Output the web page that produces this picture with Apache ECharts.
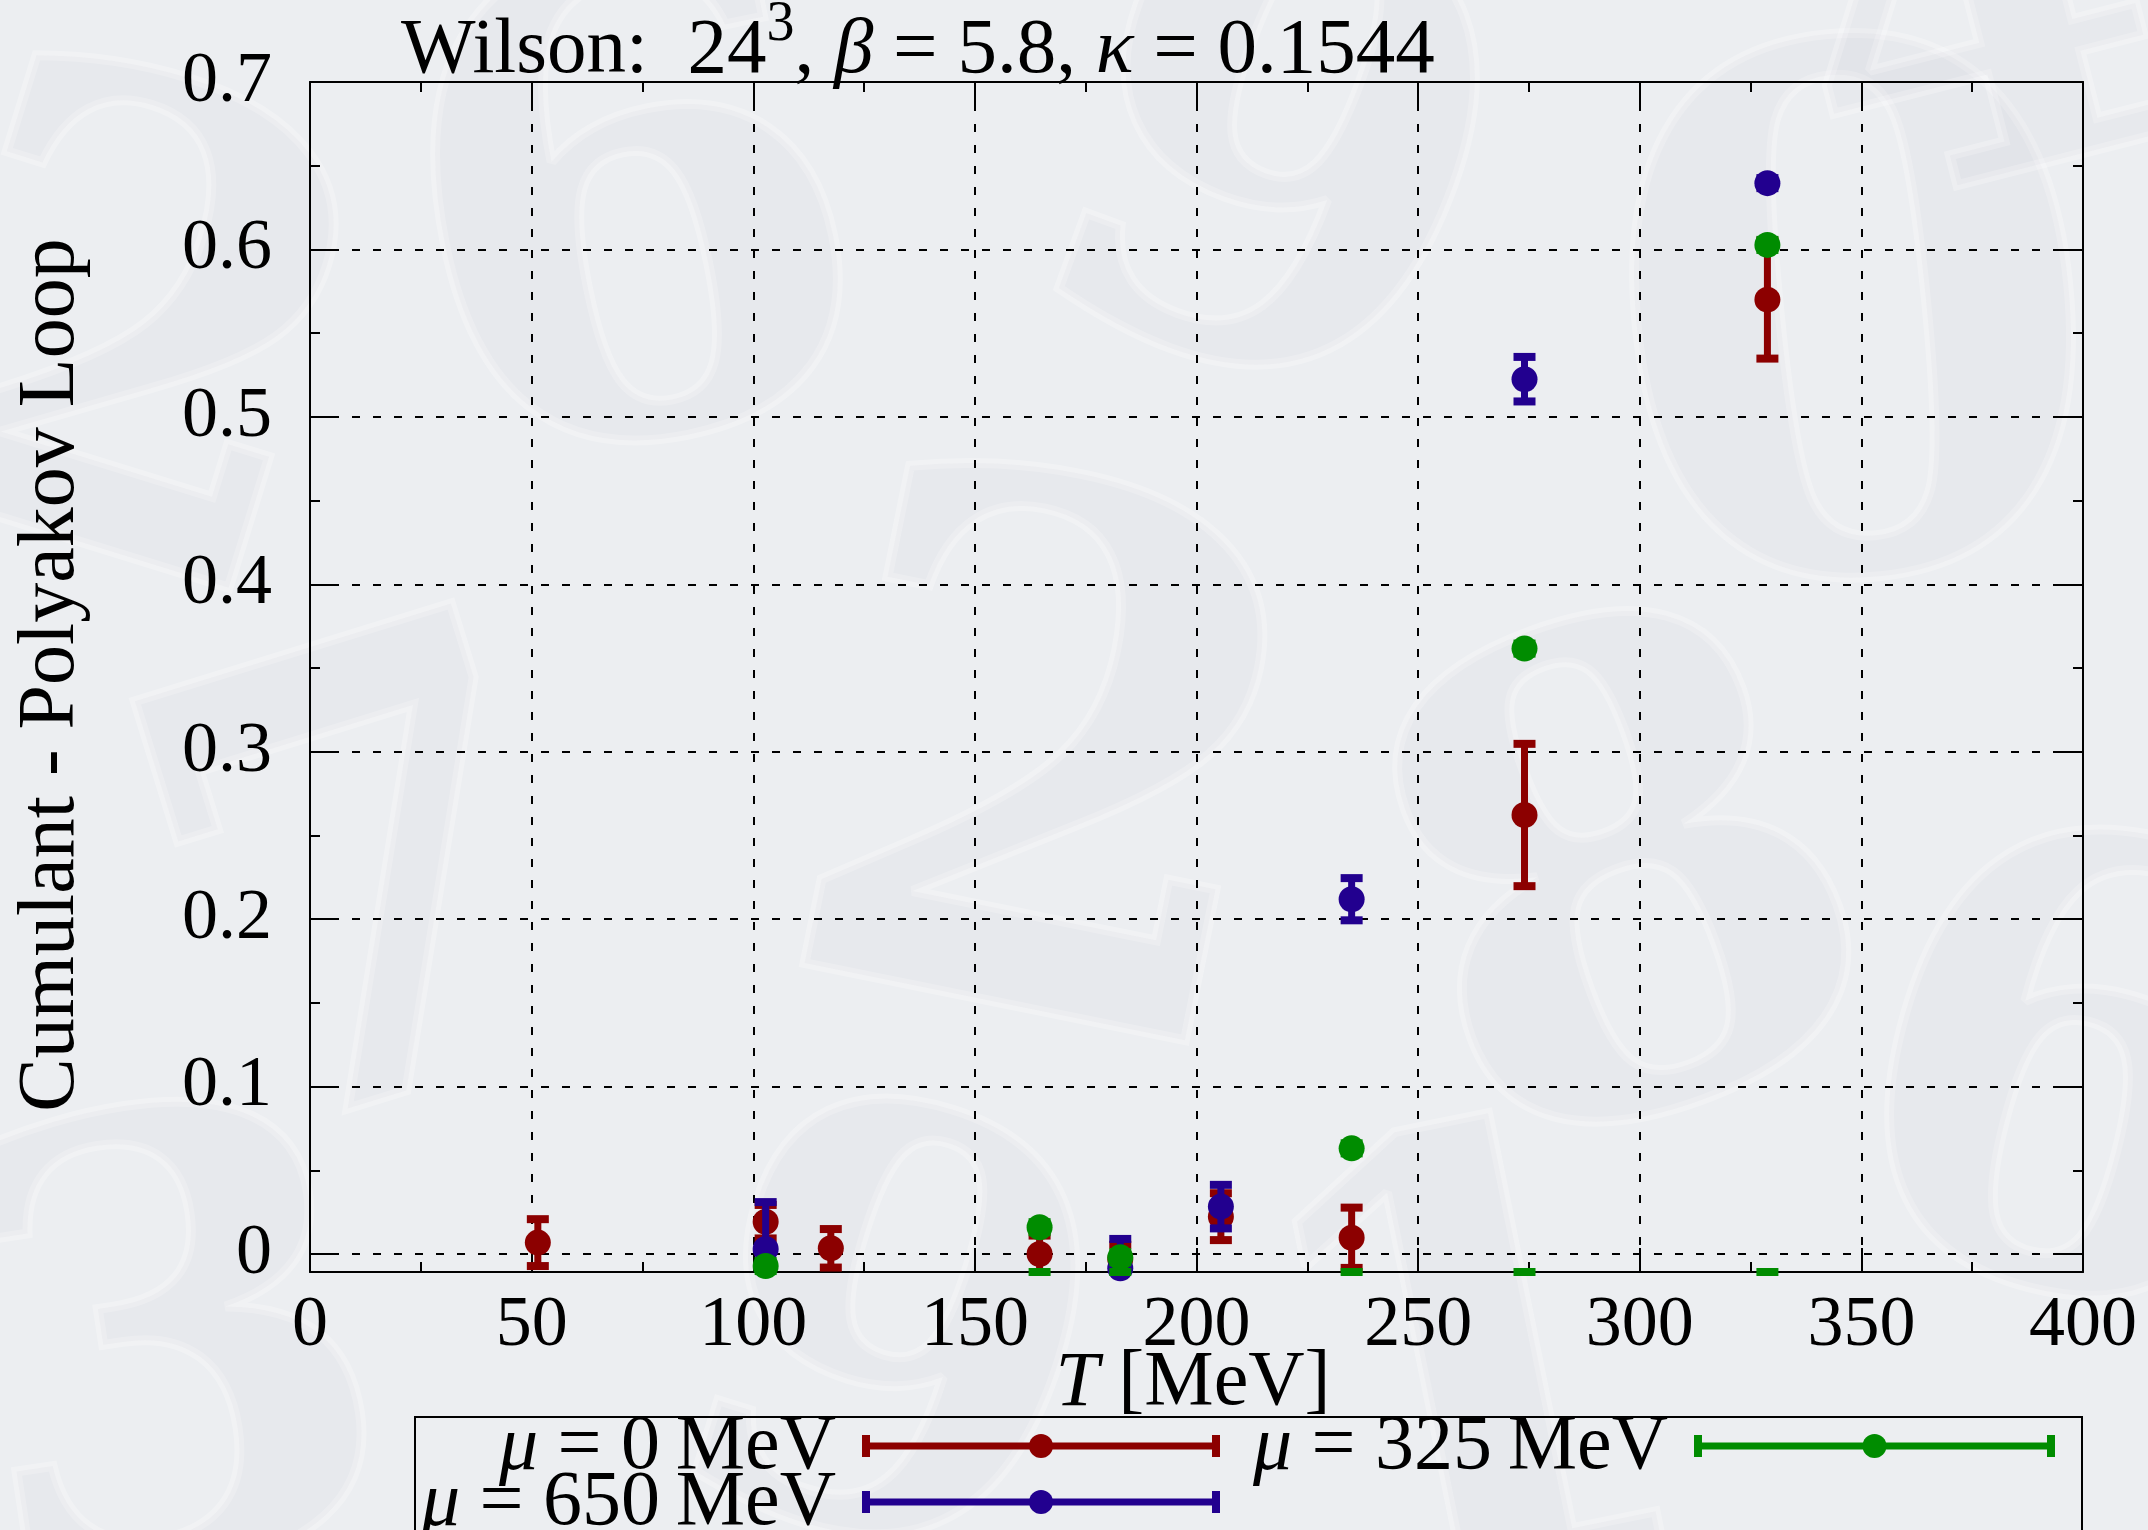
<!DOCTYPE html>
<html>
<head>
<meta charset="utf-8">
<title>Cumulant - Polyakov Loop</title>
<script src="https://cdn.jsdelivr.net/npm/echarts@6/dist/echarts.min.js"></script>
<style>
  html, body { margin: 0; padding: 0; background: #eceef1; }
  #chart { width: 2148px; height: 1530px; }
</style>
</head>
<body>
<div id="chart"></div>
<script>
// ---- data: T [MeV], cumulant value, symmetric error ----
const T_MU0   = [51.4, 102.8, 117.5, 164.6, 182.8, 205.5, 235.0, 274.0, 328.8];
const P_MU0   = [0.0068, 0.0193, 0.0034, 0.0000, -0.0030, 0.0223, 0.0097, 0.2622, 0.5700];
const E_MU0   = [0.0140, 0.0100, 0.0115, 0.0110, 0.0085, 0.0140, 0.0180, 0.0425, 0.0352];

const T_MU325 = [102.8, 164.6, 182.8, 235.0, 274.0, 328.8];
const P_MU325 = [-0.0072, 0.0160, -0.0020, 0.0631, 0.3616, 0.6027];
const E_MU325 = [0.0030, 0.0030, 0.0030, 0.0030, 0.0030, 0.0030];
// lower error caps of the mu = 325 MeV set that sit on the bottom border
const T_MU325_FLOOR = [164.6, 182.8, 235.0, 274.0, 328.8];

const T_MU650 = [102.8, 182.8, 205.5, 235.0, 274.0, 328.8];
const P_MU650 = [0.0030, -0.0085, 0.0283, 0.2119, 0.5225, 0.6396];
const E_MU650 = [0.0280, 0.0175, 0.0130, 0.0126, 0.0133, 0.0030];

const MU_VALUES   = ['0', '325', '650'];
const X_TICKS_MIN = 0, X_TICKS_MAX = 400, X_TICK_STEP = 50;
const Y_TICK_LABELS = ['0', '0.1', '0.2', '0.3', '0.4', '0.5', '0.6', '0.7'];

// ---- styling ----
const FONT = '"Liberation Serif", "Times New Roman", serif';
const COL_MU0 = '#8c0000', COL_MU325 = '#008c00', COL_MU650 = '#22008f';
const Y_MIN = -0.01075, Y_MAX = 0.7;
const DOT_R = 13, BAR_W = 7, CAP_W = 22, CAP_H = 8;

const zip = (t, p, e) => t.map((v, i) => [v, p[i], e[i]]);

function errorBarItem(color) {
  return function (params, api) {
    const x = api.value(0), y = api.value(1), e = api.value(2);
    const lo = Math.max(y - e, Y_MIN), hi = Math.min(y + e, Y_MAX);
    const c = api.coord([x, y]);
    const pLo = api.coord([x, lo]);
    const pHi = api.coord([x, hi]);
    const kids = [];
    if (hi > lo) {
      kids.push({ type: 'line', shape: { x1: c[0], y1: pLo[1], x2: c[0], y2: pHi[1] },
                  style: { stroke: color, lineWidth: BAR_W } });
    }
    if (y - e >= Y_MIN) kids.push({ type: 'rect', shape: { x: c[0] - CAP_W / 2, y: pLo[1] - CAP_H / 2, width: CAP_W, height: CAP_H }, style: { fill: color } });
    if (y + e <= Y_MAX) kids.push({ type: 'rect', shape: { x: c[0] - CAP_W / 2, y: pHi[1] - CAP_H / 2, width: CAP_W, height: CAP_H }, style: { fill: color } });
    kids.push({ type: 'circle', shape: { cx: c[0], cy: c[1], r: DOT_R }, style: { fill: color } });
    return { type: 'group', children: kids };
  };
}

function floorCapItem(color) {
  return function (params, api) {
    const p = api.coord([api.value(0), Y_MIN]);
    return { type: 'rect', shape: { x: p[0] - CAP_W / 2, y: p[1] - CAP_H / 2, width: CAP_W, height: CAP_H }, style: { fill: color } };
  };
}

// ---- text runs with mixed upright / italic pieces ----
const mctx = document.createElement('canvas').getContext('2d');
function fontStr(size, italic) { return (italic ? 'italic ' : '') + size + 'px ' + FONT; }
function textRun(pieces, x, y, align) {
  const widths = pieces.map(p => { mctx.font = fontStr(p.size, p.italic); return mctx.measureText(p.t).width; });
  const total = widths.reduce((a, b) => a + b, 0);
  let cx = align === 'right' ? x - total : (align === 'center' ? x - total / 2 : x);
  return pieces.map((p, i) => {
    const el = { type: 'text', x: cx, y: y + (p.dy || 0), z: 10,
      style: { text: p.t, font: fontStr(p.size, p.italic), fill: '#000',
               align: 'left', verticalAlign: 'middle', textAlign: 'left', textVerticalAlign: 'middle' } };
    cx += widths[i];
    return el;
  });
}

const TS = 78; // label font size
const graphics = [];

// faint numerals in the backdrop
const BACK_DIGITS = [
  ['2', 120, 380, 640, -0.3], ['6', 640, 260, 660, 0.2], ['9', 1260, 200, 620, -0.35], ['0', 1860, 380, 720, 0.1],
  ['7', 380, 930, 620, 0.3], ['2', 1040, 820, 720, -0.2], ['8', 1640, 930, 660, 0.35], ['6', 2060, 1120, 620, -0.25],
  ['3', 180, 1400, 620, 0.15], ['9', 880, 1380, 580, -0.3], ['1', 1480, 1420, 620, 0.2], ['4', 1980, 40, 520, 0.25]
];
BACK_DIGITS.forEach(d => graphics.push({
  type: 'text', x: d[1], y: d[2], rotation: d[4], z: -10,
  style: { text: d[0], font: 'bold ' + d[3] + 'px "DejaVu Serif", serif', fill: 'rgba(80,90,115,0.028)',
           stroke: 'rgba(255,255,255,0.25)', lineWidth: 10,
           align: 'center', verticalAlign: 'middle', textAlign: 'center', textVerticalAlign: 'middle' }
}));

// title
graphics.push(...textRun([
  { t: 'Wilson:  24', size: 79 },
  { t: '3', size: 56, dy: -26 },
  { t: ', ', size: 79 },
  { t: 'β', size: 79, italic: true },
  { t: ' = 5.8, ', size: 79 },
  { t: 'κ', size: 79, italic: true },
  { t: ' = 0.1544', size: 79 }
], 401, 51, 'left'));

// axis names
graphics.push(...textRun([{ t: 'T', size: TS, italic: true }, { t: ' [MeV]', size: TS }], 1193, 1384, 'center'));
graphics.push({ type: 'text', x: 52, y: 675, rotation: Math.PI / 2, z: 10,
  style: { text: 'Cumulant - Polyakov Loop', font: '80px ' + FONT, fill: '#000',
           align: 'center', verticalAlign: 'middle', textAlign: 'center', textVerticalAlign: 'middle' } });

// key box
graphics.push({ type: 'rect', z: 5, shape: { x: 415, y: 1417, width: 1667, height: 200 },
  style: { fill: 'none', stroke: '#000', lineWidth: 2 } });
const KEY = [
  { mu: MU_VALUES[0], color: COL_MU0,   textRight: 836,  x1: 866,  x2: 1216, y: 1446 },
  { mu: MU_VALUES[1], color: COL_MU325, textRight: 1668, x1: 1698, x2: 2051, y: 1446 },
  { mu: MU_VALUES[2], color: COL_MU650, textRight: 836,  x1: 866,  x2: 1216, y: 1502 }
];
KEY.forEach(k => {
  graphics.push(...textRun([
    { t: 'μ', size: TS, italic: true },
    { t: ' = ' + k.mu + '\u2009MeV', size: TS }
  ], k.textRight, k.y + 2, 'right'));
  graphics.push({ type: 'line', z: 6, shape: { x1: k.x1, y1: k.y, x2: k.x2, y2: k.y }, style: { stroke: k.color, lineWidth: 7 } });
  graphics.push({ type: 'rect', z: 6, shape: { x: k.x1 - 4, y: k.y - 11, width: 8, height: 22 }, style: { fill: k.color } });
  graphics.push({ type: 'rect', z: 6, shape: { x: k.x2 - 4, y: k.y - 11, width: 8, height: 22 }, style: { fill: k.color } });
  graphics.push({ type: 'circle', z: 6, shape: { cx: (k.x1 + k.x2) / 2, cy: k.y, r: 12 }, style: { fill: k.color } });
});

const dash = { color: '#000', width: 2, type: [8, 13] };
const tickLine = { color: '#000', width: 2 };
const frameLine = { color: '#000', width: 2 };
const labelStyle = { fontFamily: FONT, fontSize: 72, color: '#000' };

const option = {
  backgroundColor: '#eceef1',
  animation: false,
  grid: [
    { left: 310, right: 65, top: 82, bottom: 258 },   // data area with the frame
    { left: 310, right: 65, top: 82, bottom: 276 }    // 0 .. 0.7 scale for ticks, labels and grid lines
  ],
  xAxis: [
    { gridIndex: 0, type: 'value', min: X_TICKS_MIN, max: X_TICKS_MAX, interval: X_TICK_STEP, position: 'bottom',
      axisLine: { show: true, onZero: false, lineStyle: frameLine },
      axisTick: { show: true, inside: true, length: 24, lineStyle: tickLine },
      minorTick: { show: true, splitNumber: 2, length: 10, lineStyle: tickLine },
      axisLabel: Object.assign({ margin: 18 }, labelStyle),
      splitLine: { show: true, lineStyle: dash } },
    { gridIndex: 0, type: 'value', min: X_TICKS_MIN, max: X_TICKS_MAX, interval: X_TICK_STEP, position: 'top',
      axisLine: { show: true, onZero: false, lineStyle: frameLine },
      axisTick: { show: true, inside: true, length: 24, lineStyle: tickLine },
      minorTick: { show: true, splitNumber: 2, length: 10, lineStyle: tickLine },
      axisLabel: { show: false }, splitLine: { show: false } },
    { gridIndex: 1, type: 'value', min: X_TICKS_MIN, max: X_TICKS_MAX, show: false }
  ],
  yAxis: [
    { gridIndex: 0, type: 'value', min: Y_MIN, max: Y_MAX, position: 'left',
      axisLine: { show: true, onZero: false, lineStyle: frameLine },
      axisTick: { show: false }, axisLabel: { show: false }, splitLine: { show: false } },
    { gridIndex: 0, type: 'value', min: Y_MIN, max: Y_MAX, position: 'right',
      axisLine: { show: true, onZero: false, lineStyle: frameLine },
      axisTick: { show: false }, axisLabel: { show: false }, splitLine: { show: false } },
    { gridIndex: 1, type: 'value', min: 0, max: Y_MAX, interval: 0.1, position: 'left',
      axisLine: { show: false, onZero: false },
      axisTick: { show: true, inside: true, length: 24, lineStyle: tickLine },
      minorTick: { show: true, splitNumber: 2, length: 10, lineStyle: tickLine },
      axisLabel: Object.assign({ margin: 38, formatter: v => Y_TICK_LABELS[Math.round(v * 10)] }, labelStyle),
      splitLine: { show: true, lineStyle: dash } },
    { gridIndex: 1, type: 'value', min: 0, max: Y_MAX, interval: 0.1, position: 'right',
      axisLine: { show: false, onZero: false },
      axisTick: { show: true, inside: true, length: 24, lineStyle: tickLine },
      minorTick: { show: true, splitNumber: 2, length: 10, lineStyle: tickLine },
      axisLabel: { show: false }, splitLine: { show: false } }
  ],
  series: [
    { name: 'μ = 0 MeV', type: 'custom', xAxisIndex: 0, yAxisIndex: 0, clip: false, z: 3,
      renderItem: errorBarItem(COL_MU0), data: zip(T_MU0, P_MU0, E_MU0), encode: { x: 0, y: 1 } },
    { name: 'μ = 650 MeV', type: 'custom', xAxisIndex: 0, yAxisIndex: 0, clip: false, z: 4,
      renderItem: errorBarItem(COL_MU650), data: zip(T_MU650, P_MU650, E_MU650), encode: { x: 0, y: 1 } },
    { name: 'μ = 325 MeV', type: 'custom', xAxisIndex: 0, yAxisIndex: 0, clip: false, z: 5,
      renderItem: errorBarItem(COL_MU325), data: zip(T_MU325, P_MU325, E_MU325), encode: { x: 0, y: 1 } },
    { name: 'μ = 325 MeV floor', type: 'custom', xAxisIndex: 0, yAxisIndex: 0, clip: false, z: 5,
      renderItem: floorCapItem(COL_MU325), data: T_MU325_FLOOR.map(t => [t]), encode: { x: 0 } }
  ],
  graphic: graphics
};

const chart = echarts.init(document.getElementById('chart'), null, { renderer: 'canvas' });
chart.setOption(option);
</script>
</body>
</html>
